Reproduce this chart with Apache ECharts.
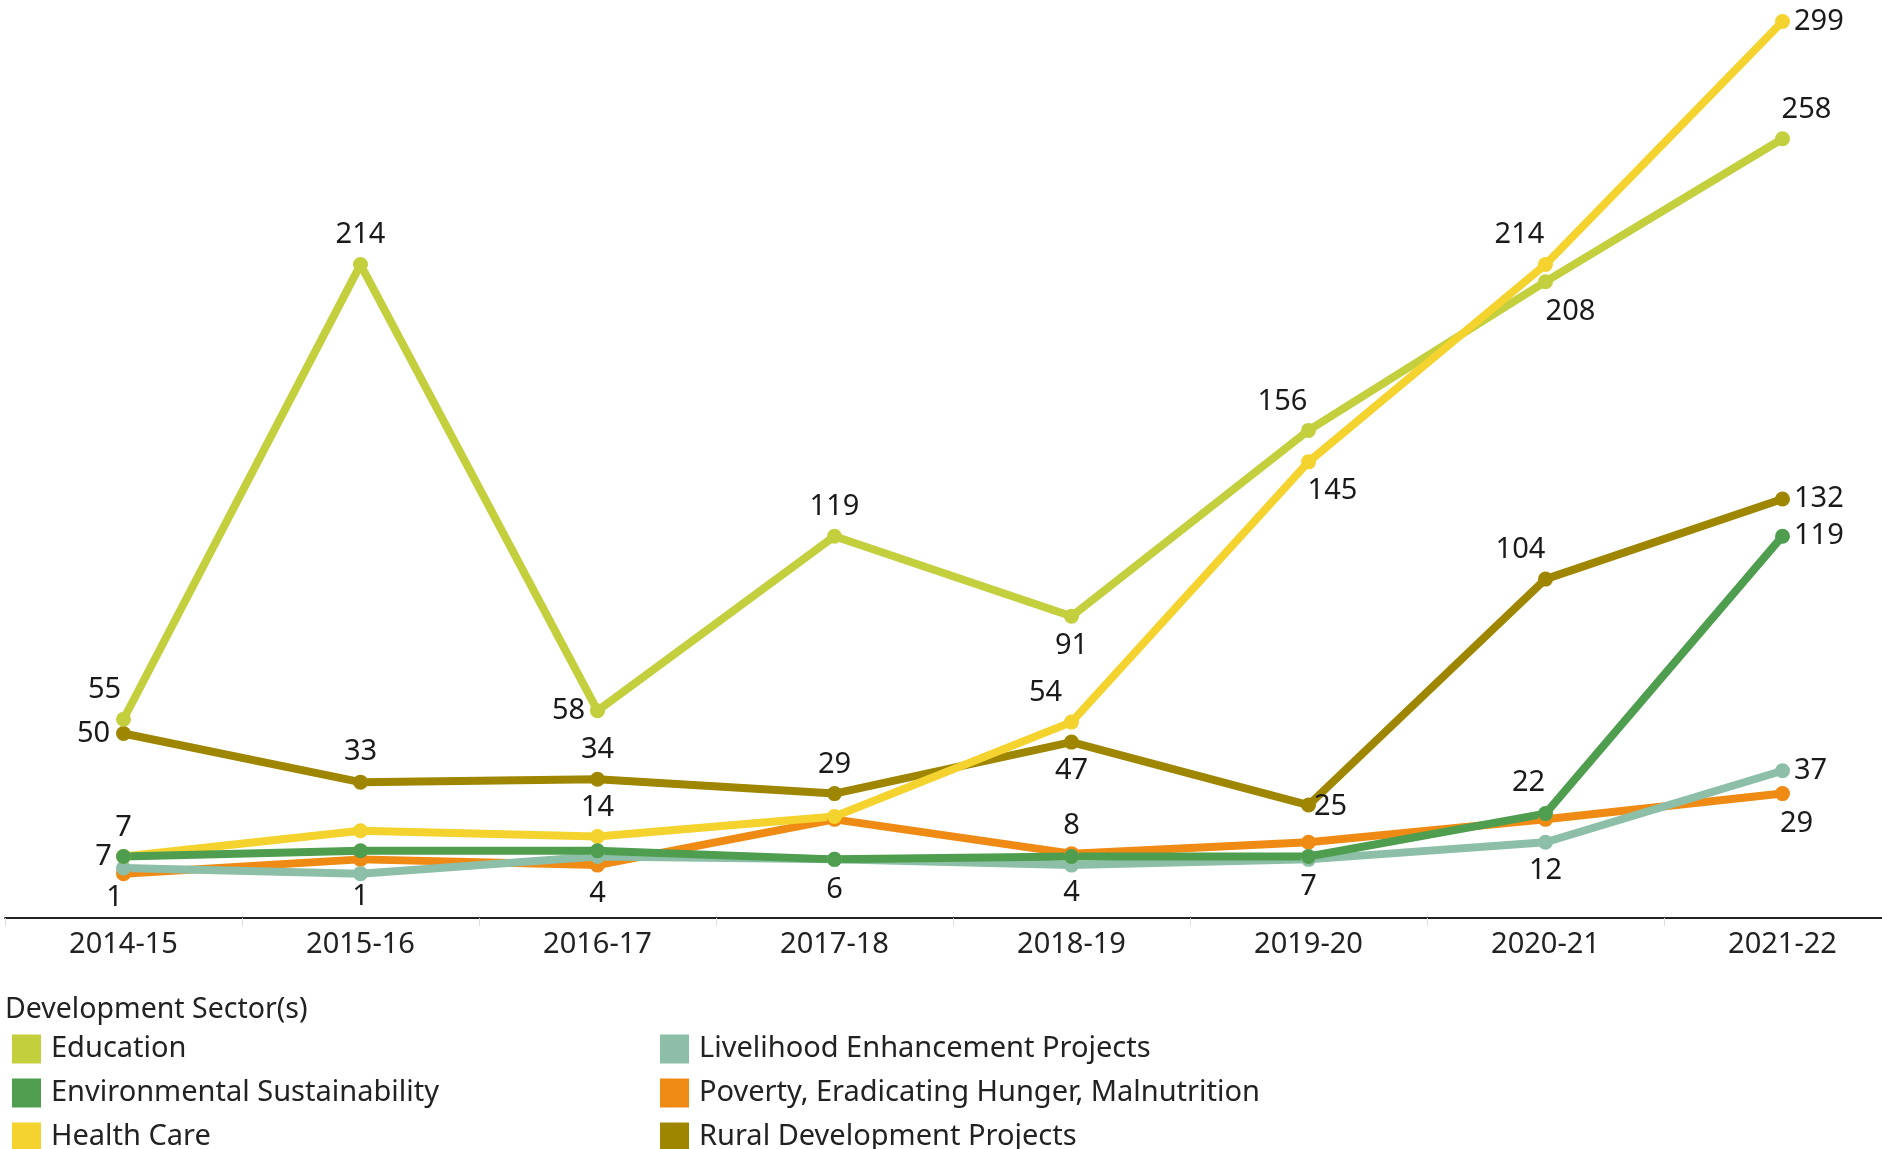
<!DOCTYPE html>
<html>
<head>
<meta charset="utf-8">
<script src="https://cdn.jsdelivr.net/npm/echarts@6/dist/echarts.min.js"></script>
<style>
html,body{margin:0;padding:0;background:#fff;}
#chart{width:1882px;height:1149px;}
</style>
</head>
<body>
<div id="chart"></div>
<script>
// ---- data ----
const categories = ['2014-15','2015-16','2016-17','2017-18','2018-19','2019-20','2020-21','2021-22'];
const education     = [55, 214, 58, 119, 91, 156, 208, 258];
const environmental = [7, 9, 9, 6, 7, 7, 22, 119];
const healthCare    = [7, 16, 14, 21, 54, 145, 214, 299];
const livelihood    = [3, 1, 7, 6, 4, 6, 12, 37];
const poverty       = [1, 6, 4, 20, 8, 12, 20, 29];
const rural         = [50, 33, 34, 29, 47, 25, 104, 132];
const legendTitle = 'Development Sector(s)';

// ---- label placement (offsets in px from the point; null = no label) ----
const labelPlan = {
  'Education': [[-19,-30],[0,-30],[-29,0],[0,-29],[0,29],[-26,-29],[25,30],[24,-29]],
  'Environmental Sustainability': [[-20,0],null,null,[0,30],null,[0,30],[-17,-31],'right'],
  'Health Care': [[0,-29],null,[0,-29],null,[-26,-29],[24,29],[-26,-30],'right'],
  'Livelihood Enhancement Projects': [null,[0,23],null,null,[0,28],null,[0,29],'right'],
  'Poverty, Eradicating Hunger, Malnutrition': [[-9,24],null,[0,29],null,[0,-28],null,null,[14,30]],
  'Rural Development Projects': [[-30,0],[0,-30],[0,-30],[0,-29],[0,29],[22,2],[-25,-29],'right']
};

const seriesDefs = [
  {name:'Rural Development Projects', values: rural, color:'#9f8601'},
  {name:'Poverty, Eradicating Hunger, Malnutrition', values: poverty, color:'#ef8b14'},
  {name:'Livelihood Enhancement Projects', values: livelihood, color:'#8dbfa8'},
  {name:'Education', values: education, color:'#c3cf3d'},
  {name:'Health Care', values: healthCare, color:'#f5d32e'},
  {name:'Environmental Sustainability', values: environmental, color:'#4f9e4f'}
];

const FONT = '"Noto Sans", "Open Sans", sans-serif';

const series = seriesDefs.map(d => ({
  name: d.name,
  type: 'line',
  symbol: 'circle',
  symbolSize: 15,
  lineStyle: {width: 8, color: d.color},
  itemStyle: {color: d.color},
  emphasis: {disabled: true},
  data: d.values.map((v, i) => {
    const p = labelPlan[d.name][i];
    let label;
    if (p === null) label = {show: false};
    else if (typeof p === 'string') label = {show: true, position: p, distance: 4};
    else label = {show: true, position: 'inside', offset: p};
    return {value: v, label: label};
  }),
  label: {fontFamily: FONT, fontSize: 29, color: '#1a1a1a'}
}));

const legendText = {fontFamily: FONT, fontSize: 29, color: '#222', lineHeight: 30, padding: [0,0,0,5]};

const chart = echarts.init(document.getElementById('chart'), null, {renderer: 'canvas'});
chart.setOption({
  animation: false,
  backgroundColor: '#ffffff',
  grid: {left: 5, right: -19, top: 0, bottom: 231, containLabel: false, outerBoundsMode: 'none'},
  title: {
    text: legendTitle, left: 5, top: 995, padding: 0,
    textStyle: {fontFamily: FONT, fontSize: 28.5, fontWeight: 'normal', color: '#222'}
  },
  legend: [
    {
      data: ['Education','Environmental Sustainability','Health Care'],
      orient: 'vertical', left: 12, top: 1034, padding: 0, height: 300, itemWidth: 29, itemHeight: 29, itemGap: 14,
      icon: 'rect', selectedMode: false, textStyle: legendText
    },
    {
      data: ['Livelihood Enhancement Projects','Poverty, Eradicating Hunger, Malnutrition','Rural Development Projects'],
      orient: 'vertical', left: 660, top: 1034, padding: 0, height: 300, itemWidth: 29, itemHeight: 29, itemGap: 14,
      icon: 'rect', selectedMode: false, textStyle: legendText
    }
  ],
  xAxis: {
    type: 'category', data: categories, boundaryGap: true,
    axisLine: {onZero: false, lineStyle: {color: '#222', width: 2}},
    axisTick: {show: true, length: 8, lineStyle: {color: '#ddd'}},
    axisLabel: {fontFamily: FONT, fontSize: 29, color: '#222', margin: 12}
  },
  yAxis: {
    type: 'value', min: -14.5, max: 306.5, show: false,
    splitLine: {show: false}
  },
  series: series
});
</script>
</body>
</html>
